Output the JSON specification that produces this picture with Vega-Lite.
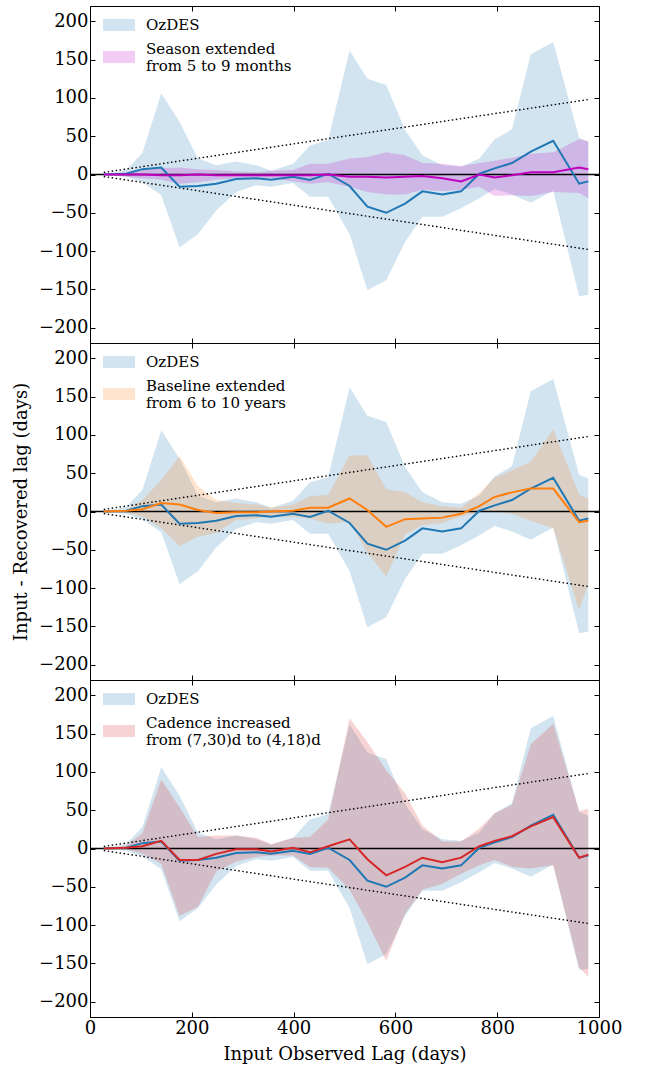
{
  "$schema": "https://vega.github.io/schema/vega-lite/v6.json",
  "padding": {"left": 12, "top": 5, "right": 5, "bottom": 5},
  "spacing": 0,
  "bounds": "flush",
  "datasets": {
    "oz": [
      {"x": 27, "hi": 0, "lo": 0, "mid": 0},
      {"x": 71, "hi": 6, "lo": -3, "mid": 1},
      {"x": 103, "hi": 28, "lo": -10, "mid": 7},
      {"x": 140, "hi": 106, "lo": -27, "mid": 9},
      {"x": 176, "hi": 69, "lo": -95, "mid": -16},
      {"x": 212, "hi": 21, "lo": -78, "mid": -15},
      {"x": 248, "hi": 12, "lo": -47, "mid": -12},
      {"x": 287, "hi": 17, "lo": -23, "mid": -6},
      {"x": 327, "hi": 12, "lo": -14, "mid": -5},
      {"x": 356, "hi": 5, "lo": -16, "mid": -7},
      {"x": 399, "hi": 14, "lo": -11, "mid": -3},
      {"x": 432, "hi": 38, "lo": -29, "mid": -7},
      {"x": 468, "hi": 45, "lo": -29, "mid": 1},
      {"x": 510, "hi": 162, "lo": -78, "mid": -15},
      {"x": 545, "hi": 125, "lo": -151, "mid": -42},
      {"x": 582, "hi": 117, "lo": -138, "mid": -50},
      {"x": 619, "hi": 58, "lo": -88, "mid": -38},
      {"x": 653, "hi": 25, "lo": -55, "mid": -22},
      {"x": 692, "hi": 12, "lo": -55, "mid": -26},
      {"x": 729, "hi": 10, "lo": -44, "mid": -22},
      {"x": 765, "hi": 21, "lo": -31, "mid": 1},
      {"x": 795, "hi": 46, "lo": -19, "mid": 8},
      {"x": 829, "hi": 59, "lo": -26, "mid": 15},
      {"x": 866, "hi": 157, "lo": -37, "mid": 30},
      {"x": 910, "hi": 173, "lo": -21, "mid": 44},
      {"x": 961, "hi": 48, "lo": -159, "mid": -12},
      {"x": 979, "hi": 43, "lo": -157, "mid": -9}
    ],
    "season": [
      {"x": 27, "hi": 0, "lo": 0, "mid": 0},
      {"x": 71, "hi": 3, "lo": -3, "mid": 0},
      {"x": 103, "hi": 6, "lo": -5, "mid": 0},
      {"x": 140, "hi": 8, "lo": -7, "mid": -1},
      {"x": 176, "hi": 9, "lo": -12, "mid": -1},
      {"x": 212, "hi": 7, "lo": -10, "mid": 0},
      {"x": 248, "hi": 6, "lo": -7, "mid": -1},
      {"x": 287, "hi": 4, "lo": -5, "mid": -1},
      {"x": 327, "hi": 3, "lo": -4, "mid": -1},
      {"x": 356, "hi": 5, "lo": -5, "mid": -1},
      {"x": 399, "hi": 6, "lo": -9, "mid": -1},
      {"x": 432, "hi": 14, "lo": -12, "mid": -1},
      {"x": 468, "hi": 14, "lo": -10, "mid": 0},
      {"x": 510, "hi": 21, "lo": -16, "mid": -3},
      {"x": 545, "hi": 23, "lo": -23, "mid": -3},
      {"x": 582, "hi": 29, "lo": -26, "mid": -4},
      {"x": 619, "hi": 25, "lo": -26, "mid": -3},
      {"x": 653, "hi": 15, "lo": -20, "mid": -2},
      {"x": 692, "hi": 14, "lo": -22, "mid": -5},
      {"x": 729, "hi": 11, "lo": -20, "mid": -9},
      {"x": 765, "hi": 15, "lo": -16, "mid": 0},
      {"x": 795, "hi": 18, "lo": -28, "mid": -4},
      {"x": 829, "hi": 22, "lo": -27, "mid": -1},
      {"x": 866, "hi": 27, "lo": -28, "mid": 3},
      {"x": 910, "hi": 29, "lo": -23, "mid": 3},
      {"x": 961, "hi": 46, "lo": -24, "mid": 9},
      {"x": 979, "hi": 43, "lo": -31, "mid": 7}
    ],
    "baseline": [
      {"x": 27, "hi": 0, "lo": 0, "mid": 0},
      {"x": 71, "hi": 2, "lo": -1, "mid": 1},
      {"x": 103, "hi": 15, "lo": -7, "mid": 3},
      {"x": 140, "hi": 41, "lo": -22, "mid": 11},
      {"x": 176, "hi": 72, "lo": -45, "mid": 9},
      {"x": 212, "hi": 33, "lo": -33, "mid": 2},
      {"x": 248, "hi": 15, "lo": -28, "mid": -2},
      {"x": 287, "hi": 11, "lo": -11, "mid": -1},
      {"x": 327, "hi": 9, "lo": -9, "mid": -1},
      {"x": 356, "hi": 5, "lo": -7, "mid": 0},
      {"x": 399, "hi": 9, "lo": -7, "mid": 1},
      {"x": 432, "hi": 20, "lo": -9, "mid": 5},
      {"x": 468, "hi": 22, "lo": -16, "mid": 5},
      {"x": 510, "hi": 73, "lo": -13, "mid": 17},
      {"x": 545, "hi": 73, "lo": -54, "mid": 2},
      {"x": 582, "hi": 29, "lo": -85, "mid": -20},
      {"x": 619, "hi": 25, "lo": -30, "mid": -10},
      {"x": 653, "hi": 12, "lo": -18, "mid": -9},
      {"x": 692, "hi": 7, "lo": -15, "mid": -8},
      {"x": 729, "hi": 5, "lo": -7, "mid": -3},
      {"x": 765, "hi": 24, "lo": -1, "mid": 7},
      {"x": 795, "hi": 44, "lo": 0, "mid": 19},
      {"x": 829, "hi": 54, "lo": -3, "mid": 25},
      {"x": 866, "hi": 65, "lo": -12, "mid": 30},
      {"x": 910, "hi": 107, "lo": -22, "mid": 30},
      {"x": 961, "hi": 22, "lo": -129, "mid": -14},
      {"x": 979, "hi": 17, "lo": -94, "mid": -12}
    ],
    "cadence": [
      {"x": 27, "hi": 0, "lo": 0, "mid": 0},
      {"x": 71, "hi": 4, "lo": -1, "mid": 1},
      {"x": 103, "hi": 20, "lo": -7, "mid": 3},
      {"x": 140, "hi": 90, "lo": -20, "mid": 10},
      {"x": 176, "hi": 54, "lo": -88, "mid": -15},
      {"x": 212, "hi": 15, "lo": -76, "mid": -15},
      {"x": 248, "hi": 17, "lo": -30, "mid": -7},
      {"x": 287, "hi": 17, "lo": -17, "mid": -1},
      {"x": 327, "hi": 14, "lo": -11, "mid": -1},
      {"x": 356, "hi": 6, "lo": -9, "mid": -4},
      {"x": 399, "hi": 14, "lo": -9, "mid": 1},
      {"x": 432, "hi": 15, "lo": -24, "mid": -5},
      {"x": 468, "hi": 38, "lo": -25, "mid": 3},
      {"x": 510, "hi": 170, "lo": -54, "mid": 12},
      {"x": 545, "hi": 139, "lo": -96, "mid": -14},
      {"x": 582, "hi": 102, "lo": -147, "mid": -35},
      {"x": 619, "hi": 72, "lo": -85, "mid": -24},
      {"x": 653, "hi": 30, "lo": -54, "mid": -12},
      {"x": 692, "hi": 9, "lo": -46, "mid": -18},
      {"x": 729, "hi": 9, "lo": -33, "mid": -12},
      {"x": 765, "hi": 26, "lo": -22, "mid": 3},
      {"x": 795, "hi": 46, "lo": -15, "mid": 10},
      {"x": 829, "hi": 57, "lo": -24, "mid": 16},
      {"x": 866, "hi": 136, "lo": -26, "mid": 29},
      {"x": 910, "hi": 163, "lo": -22, "mid": 41},
      {"x": 961, "hi": 49, "lo": -155, "mid": -12},
      {"x": 979, "hi": 52, "lo": -168, "mid": -8}
    ],
    "dotted": [
      {"x": 27, "up": 2.7, "dn": -2.7},
      {"x": 979, "up": 97.9, "dn": -97.9}
    ]
  },
  "vconcat": [
    {
      "width": 509, "height": 337,
      "layer": [
        {"data": {"name": "oz"}, "mark": {"type": "area", "opacity": 0.2},
         "encoding": {
           "x": {"field": "x", "type": "quantitative", "scale": {"domain": [0, 1000], "nice": false, "zero": false}, "axis": {"orient": "bottom", "values": [0,200,400,600,800,1000], "labels": false, "title": null}},
           "y": {"field": "hi", "type": "quantitative", "scale": {"domain": [-220, 220], "nice": false, "zero": false}, "axis": {"orient": "left", "values": [-200,-150,-100,-50,0,50,100,150,200], "title": null}},
           "y2": {"field": "lo"},
           "color": {"datum": "OzDES", "type": "nominal", "scale": {"domain": ["OzDES", "Season extended|from 5 to 9 months"], "range": ["#1f77b4", "#bf00bf"]}, "legend": {"labelExpr": "split(datum.label, '|')", "encode": {"labels": {"update": {"dy": {"signal": "datum.index === 1 ? -8 : 0"}}}}}}
         }},
        {"data": {"name": "season"}, "mark": {"type": "area", "opacity": 0.2},
         "encoding": {
           "x": {"field": "x", "type": "quantitative", "scale": {"domain": [0, 1000]}, "axis": null},
           "y": {"field": "hi", "type": "quantitative", "scale": {"domain": [-220, 220]}, "axis": null},
           "y2": {"field": "lo"},
           "color": {"datum": "Season extended|from 5 to 9 months", "type": "nominal", "legend": {"labelExpr": "split(datum.label, '|')", "encode": {"labels": {"update": {"dy": {"signal": "datum.index === 1 ? -8 : 0"}}}}}}
         }},
        {"data": {"values": [{}]}, "mark": {"type": "rule", "color": "black", "strokeWidth": 1.4},
         "encoding": {"y": {"datum": 0, "type": "quantitative", "scale": {"domain": [-220, 220]}, "axis": null}}},
        {"data": {"name": "dotted"}, "mark": {"type": "line", "color": "black", "strokeWidth": 1.4, "strokeDash": [1.5, 2.5]},
         "encoding": {
           "x": {"field": "x", "type": "quantitative", "scale": {"domain": [0, 1000]}, "axis": {"orient": "top", "values": [0,200,400,600,800,1000], "labels": false, "title": null}},
           "y": {"field": "up", "type": "quantitative", "scale": {"domain": [-220, 220]}, "axis": {"orient": "right", "values": [-200,-150,-100,-50,0,50,100,150,200], "labels": false, "title": null}}
         }},
        {"data": {"name": "dotted"}, "mark": {"type": "line", "color": "black", "strokeWidth": 1.4, "strokeDash": [1.5, 2.5]},
         "encoding": {
           "x": {"field": "x", "type": "quantitative", "scale": {"domain": [0, 1000]}, "axis": null},
           "y": {"field": "dn", "type": "quantitative", "scale": {"domain": [-220, 220]}, "axis": null}
         }},
        {"data": {"name": "oz"}, "mark": {"type": "line", "color": "#1f77b4", "strokeWidth": 2},
         "encoding": {
           "x": {"field": "x", "type": "quantitative", "scale": {"domain": [0, 1000]}, "axis": null},
           "y": {"field": "mid", "type": "quantitative", "scale": {"domain": [-220, 220]}, "axis": null}
         }},
        {"data": {"name": "season"}, "mark": {"type": "line", "color": "#bf00bf", "strokeWidth": 2},
         "encoding": {
           "x": {"field": "x", "type": "quantitative", "scale": {"domain": [0, 1000]}, "axis": null},
           "y": {"field": "mid", "type": "quantitative", "scale": {"domain": [-220, 220]}, "axis": null}
         }}
      ],
      "resolve": {"axis": {"x": "independent", "y": "independent"}}
    },
    {
      "width": 509, "height": 337,
      "layer": [
        {"data": {"name": "oz"}, "mark": {"type": "area", "opacity": 0.2},
         "encoding": {
           "x": {"field": "x", "type": "quantitative", "scale": {"domain": [0, 1000], "nice": false, "zero": false}, "axis": {"orient": "bottom", "values": [0,200,400,600,800,1000], "labels": false, "title": null}},
           "y": {"field": "hi", "type": "quantitative", "scale": {"domain": [-220, 220], "nice": false, "zero": false}, "axis": {"orient": "left", "values": [-200,-150,-100,-50,0,50,100,150,200], "title": "Input - Recovered lag (days)"}},
           "y2": {"field": "lo"},
           "color": {"datum": "OzDES", "type": "nominal", "scale": {"domain": ["OzDES", "Baseline extended|from 6 to 10 years"], "range": ["#1f77b4", "#ff7f0e"]}, "legend": {"labelExpr": "split(datum.label, '|')", "encode": {"labels": {"update": {"dy": {"signal": "datum.index === 1 ? -8 : 0"}}}}}}
         }},
        {"data": {"name": "baseline"}, "mark": {"type": "area", "opacity": 0.2},
         "encoding": {
           "x": {"field": "x", "type": "quantitative", "scale": {"domain": [0, 1000]}, "axis": null},
           "y": {"field": "hi", "type": "quantitative", "scale": {"domain": [-220, 220]}, "axis": null},
           "y2": {"field": "lo"},
           "color": {"datum": "Baseline extended|from 6 to 10 years", "type": "nominal", "legend": {"labelExpr": "split(datum.label, '|')", "encode": {"labels": {"update": {"dy": {"signal": "datum.index === 1 ? -8 : 0"}}}}}}
         }},
        {"data": {"values": [{}]}, "mark": {"type": "rule", "color": "black", "strokeWidth": 1.4},
         "encoding": {"y": {"datum": 0, "type": "quantitative", "scale": {"domain": [-220, 220]}, "axis": null}}},
        {"data": {"name": "dotted"}, "mark": {"type": "line", "color": "black", "strokeWidth": 1.4, "strokeDash": [1.5, 2.5]},
         "encoding": {
           "x": {"field": "x", "type": "quantitative", "scale": {"domain": [0, 1000]}, "axis": {"orient": "top", "values": [0,200,400,600,800,1000], "labels": false, "title": null}},
           "y": {"field": "up", "type": "quantitative", "scale": {"domain": [-220, 220]}, "axis": {"orient": "right", "values": [-200,-150,-100,-50,0,50,100,150,200], "labels": false, "title": null}}
         }},
        {"data": {"name": "dotted"}, "mark": {"type": "line", "color": "black", "strokeWidth": 1.4, "strokeDash": [1.5, 2.5]},
         "encoding": {
           "x": {"field": "x", "type": "quantitative", "scale": {"domain": [0, 1000]}, "axis": null},
           "y": {"field": "dn", "type": "quantitative", "scale": {"domain": [-220, 220]}, "axis": null}
         }},
        {"data": {"name": "oz"}, "mark": {"type": "line", "color": "#1f77b4", "strokeWidth": 2},
         "encoding": {
           "x": {"field": "x", "type": "quantitative", "scale": {"domain": [0, 1000]}, "axis": null},
           "y": {"field": "mid", "type": "quantitative", "scale": {"domain": [-220, 220]}, "axis": null}
         }},
        {"data": {"name": "baseline"}, "mark": {"type": "line", "color": "#ff7f0e", "strokeWidth": 2},
         "encoding": {
           "x": {"field": "x", "type": "quantitative", "scale": {"domain": [0, 1000]}, "axis": null},
           "y": {"field": "mid", "type": "quantitative", "scale": {"domain": [-220, 220]}, "axis": null}
         }}
      ],
      "resolve": {"axis": {"x": "independent", "y": "independent"}}
    },
    {
      "width": 509, "height": 337,
      "layer": [
        {"data": {"name": "oz"}, "mark": {"type": "area", "opacity": 0.2},
         "encoding": {
           "x": {"field": "x", "type": "quantitative", "scale": {"domain": [0, 1000], "nice": false, "zero": false}, "axis": {"orient": "bottom", "values": [0,200,400,600,800,1000], "title": "Input Observed Lag (days)"}},
           "y": {"field": "hi", "type": "quantitative", "scale": {"domain": [-220, 220], "nice": false, "zero": false}, "axis": {"orient": "left", "values": [-200,-150,-100,-50,0,50,100,150,200], "title": null}},
           "y2": {"field": "lo"},
           "color": {"datum": "OzDES", "type": "nominal", "scale": {"domain": ["OzDES", "Cadence increased|from (7,30)d to (4,18)d"], "range": ["#1f77b4", "#d62728"]}, "legend": {"labelExpr": "split(datum.label, '|')", "encode": {"labels": {"update": {"dy": {"signal": "datum.index === 1 ? -8 : 0"}}}}}}
         }},
        {"data": {"name": "cadence"}, "mark": {"type": "area", "opacity": 0.2},
         "encoding": {
           "x": {"field": "x", "type": "quantitative", "scale": {"domain": [0, 1000]}, "axis": null},
           "y": {"field": "hi", "type": "quantitative", "scale": {"domain": [-220, 220]}, "axis": null},
           "y2": {"field": "lo"},
           "color": {"datum": "Cadence increased|from (7,30)d to (4,18)d", "type": "nominal", "legend": {"labelExpr": "split(datum.label, '|')", "encode": {"labels": {"update": {"dy": {"signal": "datum.index === 1 ? -8 : 0"}}}}}}
         }},
        {"data": {"values": [{}]}, "mark": {"type": "rule", "color": "black", "strokeWidth": 1.4},
         "encoding": {"y": {"datum": 0, "type": "quantitative", "scale": {"domain": [-220, 220]}, "axis": null}}},
        {"data": {"name": "dotted"}, "mark": {"type": "line", "color": "black", "strokeWidth": 1.4, "strokeDash": [1.5, 2.5]},
         "encoding": {
           "x": {"field": "x", "type": "quantitative", "scale": {"domain": [0, 1000]}, "axis": {"orient": "top", "values": [0,200,400,600,800,1000], "labels": false, "title": null}},
           "y": {"field": "up", "type": "quantitative", "scale": {"domain": [-220, 220]}, "axis": {"orient": "right", "values": [-200,-150,-100,-50,0,50,100,150,200], "labels": false, "title": null}}
         }},
        {"data": {"name": "dotted"}, "mark": {"type": "line", "color": "black", "strokeWidth": 1.4, "strokeDash": [1.5, 2.5]},
         "encoding": {
           "x": {"field": "x", "type": "quantitative", "scale": {"domain": [0, 1000]}, "axis": null},
           "y": {"field": "dn", "type": "quantitative", "scale": {"domain": [-220, 220]}, "axis": null}
         }},
        {"data": {"name": "oz"}, "mark": {"type": "line", "color": "#1f77b4", "strokeWidth": 2},
         "encoding": {
           "x": {"field": "x", "type": "quantitative", "scale": {"domain": [0, 1000]}, "axis": null},
           "y": {"field": "mid", "type": "quantitative", "scale": {"domain": [-220, 220]}, "axis": null}
         }},
        {"data": {"name": "cadence"}, "mark": {"type": "line", "color": "#d62728", "strokeWidth": 2},
         "encoding": {
           "x": {"field": "x", "type": "quantitative", "scale": {"domain": [0, 1000]}, "axis": null},
           "y": {"field": "mid", "type": "quantitative", "scale": {"domain": [-220, 220]}, "axis": null}
         }}
      ],
      "resolve": {"axis": {"x": "independent", "y": "independent"}}
    }
  ],
  "resolve": {"scale": {"color": "independent"}},
  "config": {
    "view": {"stroke": "black", "strokeWidth": 1},
    "axis": {
      "grid": false, "domain": false, "labelFlush": false,
      "tickColor": "black", "tickSize": -5, "tickWidth": 1,
      "labelFont": "DejaVu Serif", "labelFontSize": 18, "labelColor": "black", "labelPadding": 7,
      "labelExpr": "replace(format(datum.value, 'd'), '-', '\u2212')",
      "titleFont": "DejaVu Serif", "titleFontSize": 18, "titleFontWeight": "normal", "titleColor": "black", "titlePadding": 8
    },
    "legend": {
      "orient": "none", "legendX": 13, "legendY": 3, "title": null,
      "symbolType": "M-1,-0.375L1,-0.375L1,0.375L-1,0.375Z", "symbolSize": 1024,
      "symbolOpacity": 0.2, "symbolStrokeWidth": 0,
      "labelFont": "DejaVu Serif", "labelFontSize": 15, "labelColor": "black",
      "labelLimit": 400, "labelOffset": 11, "rowPadding": 8
    }
  }
}
